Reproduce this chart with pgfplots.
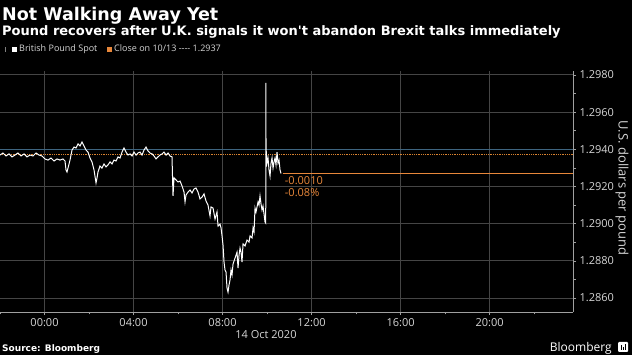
\documentclass[border=0pt]{standalone}
\usepackage{fontspec}
\usepackage{pgfplots}
\pgfplotsset{compat=1.18}
\setmainfont{Open Sans}
\newfontfamily\titlefont{DejaVu Sans}
\definecolor{bbor}{HTML}{E8873A}
\definecolor{bbclose}{HTML}{D9822F}
\definecolor{gridc}{HTML}{454545}
\definecolor{gridb}{HTML}{3E6580}
\definecolor{axc}{HTML}{A0A0A0}
\definecolor{txt}{HTML}{D6D6D6}
\pgfplotstableread{
h v
-2.000 1.29369
-1.865 1.29380
-1.730 1.29364
-1.596 1.29375
-1.461 1.29359
-1.326 1.29369
-1.191 1.29380
-1.056 1.29364
-0.921 1.29375
-0.787 1.29359
-0.652 1.29369
-0.517 1.29364
-0.382 1.29380
-0.247 1.29369
-0.112 1.29364
0.022 1.29348
0.157 1.29342
0.292 1.29353
0.427 1.29337
0.562 1.29348
0.697 1.29342
0.831 1.29348
0.921 1.29337
0.966 1.29289
1.011 1.29278
1.056 1.29299
1.146 1.29342
1.236 1.29396
1.326 1.29412
1.416 1.29407
1.506 1.29429
1.596 1.29418
1.685 1.29439
1.775 1.29418
1.865 1.29396
1.955 1.29385
2.045 1.29353
2.135 1.29332
2.225 1.29289
2.315 1.29219
2.360 1.29246
2.404 1.29278
2.494 1.29310
2.584 1.29299
2.674 1.29321
2.764 1.29305
2.854 1.29316
2.944 1.29332
3.034 1.29321
3.124 1.29342
3.213 1.29337
3.303 1.29359
3.393 1.29353
3.483 1.29385
3.573 1.29407
3.663 1.29385
3.753 1.29369
3.843 1.29375
3.933 1.29364
4.022 1.29385
4.112 1.29369
4.202 1.29380
4.292 1.29385
4.382 1.29369
4.472 1.29396
4.562 1.29412
4.652 1.29391
4.742 1.29380
4.831 1.29375
4.921 1.29364
5.011 1.29348
5.101 1.29359
5.191 1.29369
5.281 1.29375
5.371 1.29385
5.461 1.29369
5.551 1.29380
5.640 1.29364
5.730 1.29359
5.775 1.29149
5.820 1.29246
5.910 1.29235
6.000 1.29224
6.090 1.29229
6.180 1.29203
6.270 1.29170
6.315 1.29117
6.360 1.29154
6.449 1.29170
6.539 1.29181
6.629 1.29165
6.719 1.29186
6.809 1.29192
6.899 1.29170
6.989 1.29133
7.079 1.29143
7.169 1.29160
7.258 1.29122
7.348 1.29100
7.438 1.29041
7.483 1.29090
7.573 1.29084
7.663 1.29025
7.753 1.29063
7.798 1.28987
7.888 1.28998
7.933 1.28977
7.978 1.28934
8.022 1.28885
8.067 1.28794
8.112 1.28751
8.157 1.28740
8.202 1.28654
8.247 1.28632
8.292 1.28670
8.337 1.28697
8.382 1.28751
8.427 1.28724
8.472 1.28783
8.562 1.28815
8.652 1.28847
8.697 1.28761
8.742 1.28831
8.787 1.28869
8.831 1.28847
8.876 1.28794
8.921 1.28891
9.011 1.28880
9.101 1.28912
9.191 1.28901
9.236 1.28934
9.326 1.28923
9.371 1.28977
9.416 1.28955
9.461 1.29084
9.506 1.29063
9.596 1.29117
9.640 1.29100
9.685 1.29149
9.730 1.29106
9.775 1.29073
9.820 1.29095
9.865 1.29052
9.910 1.29009
9.942 1.29003
9.946 1.29757
9.955 1.29407
10.000 1.29326
10.045 1.29353
10.090 1.29289
10.135 1.29256
10.180 1.29326
10.225 1.29353
10.270 1.29299
10.315 1.29332
10.360 1.29353
10.404 1.29316
10.449 1.29385
10.494 1.29326
10.539 1.29342
10.584 1.29289
10.629 1.29270
}\gbpdata
\begin{document}
\begin{tikzpicture}[x=1pt,y=1pt]
\fill[black] (0,0) rectangle (632,355);
\useasboundingbox (0,0) rectangle (632,355);
% titles
\node[anchor=base west, text=white, inner sep=0, font=\titlefont\bfseries\fontsize{17.5}{20}\selectfont] at (2,334) {Not Walking Away Yet};
\node[anchor=base west, text=white, inner sep=0, font=\titlefont\bfseries\fontsize{13}{15}\selectfont] at (2,319) {Pound recovers after U.K. signals it won't abandon Brexit talks immediately};
% legend
\fill[gray] (4.5,303) rectangle (5.5,308);
\fill[white] (12,303) rectangle (17,308);
\node[anchor=base west, text=txt, inner sep=0, font=\fontsize{9}{11}\selectfont] at (19,303) {British Pound Spot};
\fill[bbor] (107,303) rectangle (112,308);
\node[anchor=base west, text=txt, inner sep=0, font=\fontsize{9}{11}\selectfont] at (114,303) {Close on 10/13 -{}-{}-{}- 1.2937};
\begin{axis}[
  at={(0pt,43pt)}, anchor=south west, scale only axis,
  width=573pt, height=241pt,
  xmin=-2, xmax=23.75, ymin=1.28525, ymax=1.29821,
  axis x line*=bottom, axis y line*=right,
  axis line style={draw=axc,-},
  xtick={0,4,8,12,16,20},
  xticklabels={00:00,04:00,08:00,12:00,16:00,20:00},
  minor xtick={-2,2,6,10,14,18,22},
  ytick={1.286,1.288,1.290,1.292,1.294,1.296,1.298},
  minor ytick={1.287,1.289,1.291,1.293,1.295,1.297},
  scaled y ticks=false,
  yticklabel style={/pgf/number format/.cd, fixed, fixed zerofill, precision=4},
  /pgf/number format/assume math mode=true,
  tick align=outside,
  major tick length=3pt, minor tick length=2.5pt,
  tick style={draw=axc, line width=0.6pt},
  grid=major,
  grid style={draw=gridc, line width=0.9pt},
  major grid style={draw=gridc, line width=0.9pt},
  tick label style={font=\fontsize{11}{13}\selectfont, text=txt},
  clip=true,
]
\addplot[draw=gridb, line width=1pt, forget plot] coordinates {(-2,1.294) (23.75,1.294)};
\addplot[draw=bbclose, densely dotted, line width=0.8pt] coordinates {(-2,1.2937) (23.75,1.2937)};
\addplot[draw=bbor, line width=1pt] coordinates {(10.70,1.2927) (23.75,1.2927)};
\addplot[draw=white, line width=1.0pt] table[x=h,y=v] {\gbpdata};
\node[anchor=north west, align=left, text=bbor, inner sep=1pt, font=\fontsize{11}{13}\selectfont] at (axis cs:10.75,1.29262) {-0.0010\\[-1pt]-0.08\%};
\end{axis}
\node[text=txt, rotate=-90, inner sep=0, font=\fontsize{13}{15}\selectfont] at (622,167) {U.S. dollars per pound};
\node[anchor=base, text=txt, inner sep=0, font=\fontsize{11}{13}\selectfont] at (266,16) {14 Oct 2020};
\node[anchor=base west, text=white, inner sep=0, font=\titlefont\bfseries\fontsize{9}{11}\selectfont] at (2,3) {Source: Bloomberg};
\node[anchor=base east, text=white, inner sep=0, font=\fontsize{12}{14}\selectfont] at (612,3) {Bloomberg};
\fill[white, rounded corners=1pt] (618,3) rectangle (628,13);
\fill[black] (620.5,5) rectangle (621.7,10);
\fill[black] (622.6,5) rectangle (623.8,8);
\fill[black] (624.7,5) rectangle (625.9,11);
\end{tikzpicture}
\end{document}
